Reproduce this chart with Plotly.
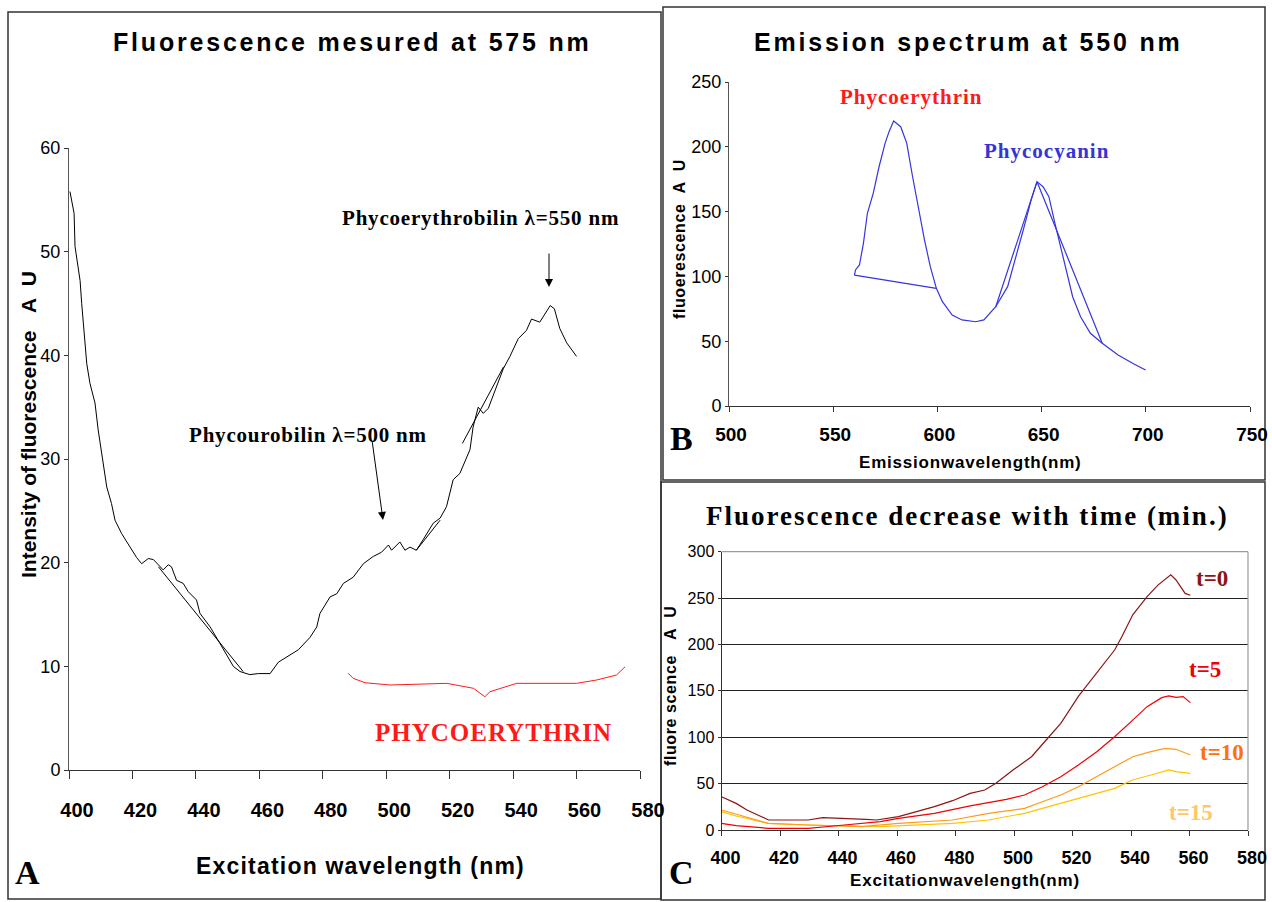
import plotly.graph_objects as go

# ---------------- data ----------------
# Panel A: fluorescence measured at 575 nm (excitation scan)
A_x = [400.3, 401.6, 401.9, 403.5, 404.0, 404.7, 405.6, 406.6, 408.2, 409.2, 410.3, 411.9, 413.4, 414.5,
       416.6, 419.2, 421.3, 422.9, 425.0, 426.6, 429.7, 431.3, 432.3, 433.9, 436.0, 437.6, 440.2, 441.3,
       444.5, 447.6, 451.8, 453.9, 457.0, 459.7, 463.4, 466.0, 468.6, 472.3, 476.0, 478.1, 479.1, 482.3,
       484.4, 486.5, 489.6, 492.8, 495.9, 498.5, 500.7, 501.7, 504.3, 505.9, 507.5, 509.5, 511.6, 514.8,
       517.0, 519.0, 521.1, 523.2, 526.4, 527.4, 529.0, 530.6, 532.2, 536.9, 539.0, 541.6, 544.2, 545.8,
       548.4, 550.5, 551.7, 553.0, 554.7, 556.9, 560.0]
A_y = [55.8, 53.7, 50.5, 47.2, 45.0, 42.4, 39.2, 37.3, 35.4, 32.8, 30.6, 27.3, 25.7, 24.1,
       22.8, 21.5, 20.5, 19.9, 20.4, 20.3, 19.3, 19.8, 19.6, 18.3, 18.0, 17.2, 16.4, 15.1,
       13.8, 12.2, 10.0, 9.5, 9.2, 9.3, 9.3, 10.4, 10.9, 11.6, 12.8, 13.8, 15.1, 16.7,
       17.0, 18.0, 18.6, 19.9, 20.6, 21.0, 21.7, 21.2, 22.0, 21.2, 21.5, 21.2, 22.2, 23.8,
       24.3, 25.4, 28.0, 28.6, 30.9, 33.1, 35.0, 34.4, 34.9, 38.7, 39.9, 41.6, 42.4, 43.5,
       43.2, 44.3, 44.8, 44.5, 42.6, 41.2, 39.9]
# straight retrace segments visible in panel A (None separates segments)
A_chord_x = [428.2, 454.9, None, 509.5, 517.0, None, 524.0, 537.0]
A_chord_y = [19.6, 9.5, None, 21.2, 24.1, None, 31.5, 38.9]
# red brace under the phycoerythrin band
brace_x = [488.0, 489.6, 493.3, 501.2, 519.1, 527.5, 531.1, 532.7, 541.1, 560.0, 566.3, 572.6, 575.3]
brace_y = [9.33, 8.84, 8.42, 8.20, 8.36, 7.88, 7.07, 7.55, 8.36, 8.36, 8.68, 9.16, 9.96]

# Panel B: emission spectrum at 550 nm
B_x = [560.2, 560.7, 562.6, 564.5, 566.4, 569.2, 572.0, 574.9, 576.8, 579.0, 582.4, 585.3, 588.1, 591.0,
       593.8, 596.6, 599.5, 602.4, 607.1, 611.8, 618.4, 622.3, 628.0, 633.7, 637.4, 641.2, 645.0, 647.8,
       650.7, 653.5, 656.4, 659.2, 662.0, 664.9, 668.7, 673.4, 679.1, 686.7, 694.3, 699.9]
B_y = [101, 105, 108.8, 125.5, 148.7, 164.1, 184.6, 202.7, 211.7, 219.9, 215.5, 202.7, 176.9, 151.2,
       128.1, 107.5, 90.8, 80.5, 70.2, 66.4, 65.0, 66.4, 76.6, 92.1, 112.7, 135.8, 159.0, 173.1,
       169.2, 161.5, 141.0, 122.9, 102.4, 84.3, 68.9, 56.1, 48.4, 39.4, 32.4, 27.8]
B_chord_x = [560.2, 599.5, None, 628.0, 647.8, 679.1]
B_chord_y = [101, 90.8, None, 76.6, 173.1, 48.4]

# Panel C: fluorescence decrease with time
C_t0_x = [400, 405, 408.7, 416.1, 429.6, 434.6, 449.4, 453, 460.5, 466.6, 472.8, 479, 485, 490, 493.8,
          500, 506, 511, 516, 522, 528.3, 534.4, 536.9, 540.6, 545.5, 549.2, 553.6, 555.4, 558.5, 560.3]
C_t0_y = [35.9, 28.7, 21.6, 10.8, 10.8, 13.3, 11.5, 10.8, 14.4, 19.8, 25.2, 31.6, 39.5, 43.1, 50.3,
          65.4, 79, 97, 115, 144, 169, 194, 208.5, 232, 251.5, 264, 275, 269.5, 255, 253]
C_t5_x = [400, 405, 416, 429.6, 442, 454.3, 460.5, 472.8, 485, 497.4, 503.6, 509.7, 516, 522, 528.3,
          534.4, 540.6, 545.5, 550.5, 552.9, 555.4, 557.8, 560.3]
C_t5_y = [7.2, 4.7, 1.8, 1.8, 5.4, 9, 12.6, 18, 26, 33, 37.7, 46.7, 57.5, 70, 84.4,
          100.6, 118.5, 133, 142.7, 144.5, 143, 143.8, 137.3]
C_t10_x = [400, 405, 416, 429.6, 448, 460.5, 479, 491.3, 503.6, 509.7, 516, 522, 528.3, 534.4, 540.6,
           546.8, 551.7, 555.4, 560.3]
C_t10_y = [21.6, 17.3, 7.2, 5.4, 3.6, 7.2, 10.8, 18, 23.3, 30.5, 37.7, 46.7, 57.5, 68.3, 79,
           84.4, 88, 87, 80.8]
C_t15_x = [400, 405, 416, 429.6, 454.3, 479, 491.3, 503.6, 509.7, 516, 522, 528.3, 534.4, 538, 540.6,
           546.8, 552.9, 555.4, 560.3]
C_t15_y = [19.8, 15.1, 7.2, 5.4, 3.6, 7.2, 10.8, 18, 23.3, 28.7, 34, 39.5, 44.9, 50.3, 53.9,
           59.3, 64.7, 62.9, 61.1]

A_ticks_x = list(range(400, 581, 20))
A_ticks_y = list(range(0, 61, 10))
B_ticks_x = list(range(500, 751, 50))
B_ticks_y = list(range(0, 251, 50))
C_ticks_x = list(range(400, 581, 20))
C_ticks_y = list(range(0, 301, 50))

# ---------------- layout helpers ----------------
W, H = 1272, 902
SANS = "Liberation Sans, Arial, sans-serif"
SERIF = "Liberation Serif, Times New Roman, serif"


def px(x):
    return x / W


def py(y):
    return 1 - y / H


fig = go.Figure()

# Panel A traces
fig.add_trace(go.Scatter(x=A_x, y=A_y, mode="lines", line=dict(color="black", width=1),
                         xaxis="x", yaxis="y", showlegend=False))
fig.add_trace(go.Scatter(x=A_chord_x, y=A_chord_y, mode="lines", line=dict(color="black", width=1),
                         xaxis="x", yaxis="y", showlegend=False, connectgaps=False))
fig.add_trace(go.Scatter(x=brace_x, y=brace_y, mode="lines", line=dict(color="#ff1a1a", width=1),
                         xaxis="x", yaxis="y", showlegend=False))

# Panel B traces
BLUE = "#3535e0"
fig.add_trace(go.Scatter(x=B_x, y=B_y, mode="lines", line=dict(color=BLUE, width=1.2),
                         xaxis="x2", yaxis="y2", showlegend=False))
fig.add_trace(go.Scatter(x=B_chord_x, y=B_chord_y, mode="lines", line=dict(color=BLUE, width=1.2),
                         xaxis="x2", yaxis="y2", showlegend=False, connectgaps=False))

# Panel C traces
for xs, ys, col in [(C_t15_x, C_t15_y, "#ffc400"), (C_t10_x, C_t10_y, "#ff9a1a"),
                    (C_t5_x, C_t5_y, "#f00000"), (C_t0_x, C_t0_y, "#8b1616")]:
    fig.add_trace(go.Scatter(x=xs, y=ys, mode="lines", line=dict(color=col, width=1.2),
                             xaxis="x3", yaxis="y3", showlegend=False))

axis_common = dict(showgrid=False, zeroline=False, showline=True, ticks="outside",
                   fixedrange=True, tickcolor="#333", automargin=False, ticklabeloverflow="allow")

fig.update_layout(
    width=W, height=H, autosize=False,
    margin=dict(l=0, r=0, t=0, b=0, pad=0, autoexpand=False),
    paper_bgcolor="white", plot_bgcolor="white",
    xaxis=dict(domain=[px(69), px(640)], range=[400, 580], tickvals=A_ticks_x, anchor="y",
               linecolor="#333", linewidth=1, ticklen=8,
               tickfont=dict(family=SANS, size=20, color="black", weight="bold"),
               ticklabelshift=8, ticklabelstandoff=14, **axis_common),
    yaxis=dict(domain=[py(770), py(148)], range=[0, 60], tickvals=A_ticks_y, anchor="x",
               linecolor="#555", linewidth=1, ticklen=4,
               tickfont=dict(family=SANS, size=18, color="black"), **axis_common),
    xaxis2=dict(domain=[px(729), px(1250)], range=[500, 750], tickvals=B_ticks_x, anchor="y2",
                linecolor="#333", linewidth=1, ticklen=5,
                tickfont=dict(family=SANS, size=19, color="black", weight="bold"),
                ticklabelshift=2, ticklabelstandoff=6, **axis_common),
    yaxis2=dict(domain=[py(406), py(82)], range=[0, 250], tickvals=B_ticks_y, anchor="x2",
                linecolor="#555", linewidth=1, ticklen=3,
                tickfont=dict(family=SANS, size=18, color="black"), **axis_common),
    xaxis3=dict(domain=[px(721.5), px(1248)], range=[400, 580], tickvals=C_ticks_x, anchor="y3",
                linecolor="#333", linewidth=1, ticklen=5,
                tickfont=dict(family=SANS, size=18, color="black", weight="bold"),
                ticklabelshift=4, ticklabelstandoff=6, **axis_common),
    yaxis3=dict(domain=[py(830), py(551.7)], range=[0, 300], tickvals=C_ticks_y, anchor="x3",
                showgrid=True, gridcolor="#222", gridwidth=1, zeroline=False, showline=True,
                linecolor="#333", linewidth=1, ticks="outside", ticklen=3, tickcolor="#333",
                fixedrange=True, automargin=False, tickfont=dict(family=SANS, size=16, color="black")),
)

shapes = []
# panel frames
for (x0, y0, x1, y1) in [(8, 12, 661, 899), (663, 7, 1265, 480), (661, 482, 1265, 900)]:
    shapes.append(dict(type="rect", xref="paper", yref="paper", x0=px(x0), x1=px(x1), y0=py(y1), y1=py(y0),
                       line=dict(color="#333", width=1.5), fillcolor="rgba(0,0,0,0)", layer="below"))
# panel C plot-area frame (top and right, grey)
shapes.append(dict(type="line", xref="x3 domain", yref="y3 domain", x0=0, x1=1, y0=1, y1=1,
                   line=dict(color="#9a9a9a", width=1.2), layer="above"))
shapes.append(dict(type="line", xref="x3 domain", yref="y3 domain", x0=1, x1=1, y0=0, y1=1,
                   line=dict(color="#9a9a9a", width=1.2), layer="above"))
fig.update_layout(shapes=shapes)

NB = "\u00a0"
ann = []


def text(x, y, s, size, family=SANS, color="black", bold=True, angle=0, spacing=0):
    if spacing:
        s = f'<span style="letter-spacing:{spacing}px">{s}</span>'
    ann.append(dict(x=px(x), y=py(y), xref="paper", yref="paper", text=s, showarrow=False,
                    textangle=angle, xanchor="center", yanchor="middle",
                    font=dict(family=family, size=size, color=color, weight="bold" if bold else "normal")))


# Panel A texts
text(352, 42, f"Fluorescence{NB}mesured{NB}at{NB}575{NB}nm", 25, spacing=2.8)
text(28, 425, f"Intensity of fluorescence{NB}{NB}{NB}A{NB}{NB}U", 21, angle=-90)
text(360, 866, f"Excitation{NB}wavelength{NB}(nm)", 23, spacing=1.2)
text(28, 872, "A", 34, family=SERIF)
text(480, 218, "Phycoerythrobilin \u03bb=550 nm", 21, family=SERIF, spacing=0.8)
text(308, 435, "Phycourobilin \u03bb=500 nm", 21, family=SERIF, spacing=0.8)
text(493, 732, "PHYCOERYTHRIN", 25, family=SERIF, color="#ff1a1a", spacing=1)

# Panel B texts
text(968, 42, f"Emission{NB}spectrum{NB}at{NB}550{NB}nm", 25, spacing=2.8)
text(680, 239, f"fluoerescence{NB}{NB}A{NB}{NB}U", 16, angle=-90, spacing=0.6)
text(970, 462, "Emissionwavelength(nm)", 17, spacing=0.8)
text(681, 438, "B", 34, family=SERIF)
text(911, 97, "Phycoerythrin", 21, family=SERIF, color="#ff1a1a", spacing=1)
text(1046, 151, "Phycocyanin", 21, family=SERIF, color="#3535d5", spacing=1)

# Panel C texts
text(967, 516, "Fluorescence decrease with time (min.)", 27, family=SERIF, spacing=2)
text(670, 686, f"fluore{NB}scence{NB}{NB}{NB}A{NB}{NB}U", 16, angle=-90, spacing=0.6)
text(965, 880, "Excitationwavelength(nm)", 17, spacing=0.8)
text(681, 872, "C", 34, family=SERIF)
text(1212, 578, "t=0", 23, family=SERIF, color="#8b1616")
text(1205, 669, "t=5", 23, family=SERIF, color="#f00000")
text(1222, 752, "t=10", 23, family=SERIF, color="#ff7010")
text(1191, 812, "t=15", 23, family=SERIF, color="#ffc766")

# arrows in panel A
ann.append(dict(x=px(549), y=py(287), xref="paper", yref="paper", ax=0, ay=-35, axref="pixel", ayref="pixel",
                showarrow=True, arrowhead=2, arrowsize=1.6, arrowwidth=1, arrowcolor="black", text=""))
ann.append(dict(x=px(383), y=py(520), xref="paper", yref="paper", ax=-11, ay=-80, axref="pixel", ayref="pixel",
                showarrow=True, arrowhead=2, arrowsize=1.6, arrowwidth=1, arrowcolor="black", text=""))

fig.update_layout(annotations=ann)

fig.write_html("out.html",
               post_script="document.body.style.margin='0';document.body.style.overflow='hidden';"
                           "document.documentElement.style.overflow='hidden';")
